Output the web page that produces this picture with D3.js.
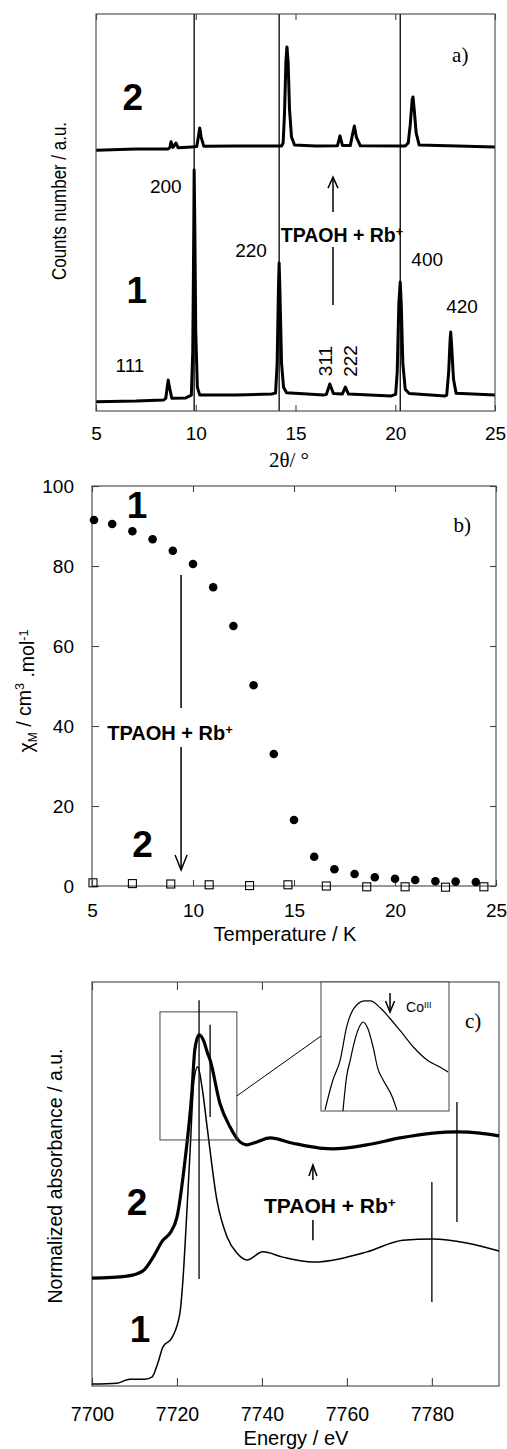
<!DOCTYPE html>
<html>
<head>
<meta charset="utf-8">
<script src="https://cdn.jsdelivr.net/npm/d3@7"></script>
<style>
  body { margin: 0; background: #fff; }
</style>
</head>
<body>
<svg width="507" height="1449"></svg>
<script>
// ---------- data ----------
// a) powder XRD, 2theta (deg) vs counts (a.u.)
let xrdTicks = [5, 10, 15, 20, 25];
let xrdLines = [9.92, 14.18, 20.25];
let xrd1 = [[5,2.3],[7,2.5],[8.4,2.8],[8.5,3.2],[8.57,6],[8.62,7.8],[8.68,6],[8.8,3.2],[9.5,3.3],
  [9.78,4],[9.85,15],[9.9,45],[9.92,60.7],[9.95,48],[10.0,20],[10.08,6],[10.2,4],
  [12,4],[13.8,4.3],[14.0,4.5],[14.08,12],[14.15,32],[14.18,37.3],[14.22,30],[14.3,12],[14.4,6],[14.55,4.6],
  [16.4,4],[16.55,4.2],[16.72,6.8],[16.9,4.4],[17.35,4.3],[17.5,6],[17.65,4.3],
  [19.8,3.8],[20.02,4.2],[20.1,10],[20.18,27],[20.25,32.5],[20.3,27],[20.38,12],[20.5,5.5],[20.7,4.4],
  [22.5,3.8],[22.58,4],[22.68,10],[22.75,18],[22.78,19.9],[22.82,17],[22.92,8],[23.05,4.5],[25,4]];
let xrd2 = [[5,65.7],[7,66],[8.6,66],[8.7,66.3],[8.76,67.8],[8.86,66.4],[9.01,67.5],[9.12,66.3],[9.8,66.5],
  [10.05,66.6],[10.13,69],[10.2,71.3],[10.27,69],[10.4,66.7],[12,66.75],[14.3,66.75],
  [14.38,67.5],[14.45,75],[14.52,88],[14.57,91.7],[14.63,88],[14.7,76],[14.8,69],[14.95,67],
  [16,66.75],[17.1,66.8],[17.23,69.3],[17.35,66.9],[17.75,66.9],[17.85,69.5],[17.95,71.8],[18.05,69],[18.25,66.8],
  [20.5,66.75],[20.65,67.5],[20.75,72],[20.85,78.5],[20.89,79.1],[20.95,76],[21.05,70],[21.2,67],[25,66.5]];

// b) chi_M (cm3/mol) vs temperature (K)
let chiTicksX = [5, 10, 15, 20, 25];
let chiTicksY = [0, 20, 40, 60, 80, 100];
let chiT1 = [5.1, 6, 7, 8, 9, 10, 11, 12, 13, 14, 15, 16, 17, 18, 19, 20, 21, 22, 23, 24];
let chi1  = [91.5, 90.5, 88.7, 86.7, 83.8, 80.5, 74.7, 65, 50.2, 33, 16.5, 7.3, 4.2, 3, 2.2, 1.8, 1.5, 1.2, 1.1, 1.0];
let chiT2 = [5.05, 7, 8.9, 10.8, 12.8, 14.7, 16.6, 18.6, 20.5, 22.5, 24.4];
let chi2  = [0.8, 0.6, 0.5, 0.3, 0.1, 0.3, 0, -0.2, -0.2, -0.3, -0.2];

// c) Co K-edge XANES, energy (eV) vs normalized absorbance (a.u., offset)
let xasTicks = [7700, 7720, 7740, 7760, 7780];
let xas1 = [[7700,0.5],[7705.9,0.7],[7708.9,1.7],[7712.5,1.7],[7714.1,2.2],[7715.5,5.7],[7716.7,9.7],[7718.8,11.9],
  [7720.7,18.1],[7721.4,26.2],[7722.1,38.6],[7723.1,58.4],[7724,75.7],[7724.9,79],[7725.9,74],[7727.1,64.1],
  [7729.4,46],[7731.8,36.9],[7734.1,32.9],[7736.5,31.2],[7740.2,33.2],[7744.9,31.9],[7752,30.7],[7764.7,33.2],
  [7773.2,36.1],[7780.2,36.4],[7788.2,35.4],[7795.8,33.4]];
let xas2 = [[7700,26.7],[7708.2,27.2],[7712,28.5],[7714.4,31.9],[7716.7,36.1],[7718.4,37.9],[7720,41.8],
  [7721.9,55.9],[7723.5,72.5],[7724.2,83.2],[7725.2,86.9],[7726.4,85.1],[7727.1,82.7],[7727.8,80.7],[7730.1,70],
  [7732.5,64.1],[7734.4,60.9],[7736.5,59.7],[7738.8,60.4],[7741.9,61.4],[7747.3,60.1],[7753.6,58.9],[7756.7,58.7],
  [7764.7,59.7],[7772.5,61.4],[7780.2,62.6],[7785.9,62.9],[7791.3,62.6],[7795.8,61.9]];
// inset, edge region enlarged
let inset2 = [[7720.44,0.8],[7721.3,24],[7722.1,39.5],[7722.8,65.1],[7723.9,82.2],[7724.8,85.3],[7725.4,85.3],
  [7726.5,79.8],[7727.5,72.1],[7728.6,62.8],[7730.1,49.6],[7731.6,39.5],[7733,34.1],[7733.9,30.2]];
let inset1 = [[7722.4,0],[7722.8,26.4],[7723.2,39.5],[7723.7,55],[7724.3,66.7],[7724.6,69],[7725.1,64.3],
  [7725.7,49.6],[7726.2,33.3],[7726.8,24],[7727.8,10.9],[7728.3,0.8]];

// ---------- helpers ----------
const SANS = '"Liberation Sans", Arial, Helvetica, sans-serif';
const SERIF = '"Liberation Serif", "Times New Roman", serif';
const svg = d3.select("svg");

function frame(g, x, y) {
  g.append("rect")
    .attr("x", x.range()[0]).attr("y", y.range()[1])
    .attr("width", x.range()[1] - x.range()[0])
    .attr("height", y.range()[0] - y.range()[1])
    .attr("fill", "none").attr("stroke", "#444").attr("stroke-width", 1.1);
}

function txt(g, x, y, s, o = {}) {
  let t = g.append("text").attr("x", x).attr("y", y)
    .attr("font-family", o.serif ? SERIF : SANS)
    .attr("font-size", o.size || 18)
    .attr("font-weight", o.bold ? "bold" : null)
    .attr("text-anchor", o.anchor || "middle")
    .attr("fill", "#000");
  if (o.rotate) t.attr("transform", `rotate(${o.rotate},${x},${y})`);
  if (o.len) t.attr("textLength", o.len).attr("lengthAdjust", "spacingAndGlyphs");
  t.text(s);
  return t;
}
function sup(t, s, dy) {
  return t.append("tspan").attr("dy", dy || "-0.45em").attr("font-size", "0.65em").text(s);
}

function styleAxis(a, size) {
  a.select(".domain").remove();
  a.selectAll("line").attr("stroke", "#444").attr("stroke-width", 1.1);
  a.selectAll("text").attr("font-family", SANS).attr("font-size", size).attr("fill", "#000");
}

function vline(g, x, y0, y1, w) {
  g.append("line").attr("x1", x).attr("x2", x).attr("y1", y0).attr("y2", y1)
    .attr("stroke", "#000").attr("stroke-width", w || 1.3);
}

function arrow(g, x, yTail, yTip, hw, hl) {
  let dir = yTip < yTail ? 1 : -1;
  vline(g, x, yTail, yTip, 1.5);
  g.append("path")
    .attr("d", `M${x - hw},${yTip + dir * hl}L${x},${yTip}L${x + hw},${yTip + dir * hl}`)
    .attr("fill", "none").attr("stroke", "#000").attr("stroke-width", 1.5);
}

let fmt = d3.format("d");

// ---------- a) XRD ----------
let xA = d3.scaleLinear().domain([5, 25]).range([96, 495]);
let yA = d3.scaleLinear().domain([0, 100]).range([411, 14]);
let gA = svg.append("g");

gA.append("g").attr("transform", `translate(0,${yA.range()[0]})`)
  .call(d3.axisBottom(xA).tickValues(xrdTicks).tickFormat(fmt).tickSizeInner(-6).tickSizeOuter(0).tickPadding(16))
  .call(a => styleAxis(a, 19));
gA.append("g").attr("transform", `translate(0,${yA.range()[1]})`)
  .call(d3.axisTop(xA).tickValues(xrdTicks).tickSizeInner(-6).tickSizeOuter(0).tickFormat(""))
  .call(a => styleAxis(a, 19));

xrdLines.forEach(v => vline(gA, xA(v), yA.range()[1], yA.range()[0], 1.3));

let lineA = d3.line().x(d => xA(d[0])).y(d => yA(d[1]));
[xrd1, xrd2].forEach(s => gA.append("path").attr("d", lineA(s))
  .attr("fill", "none").attr("stroke", "#000").attr("stroke-width", 3).attr("stroke-linejoin", "round"));
frame(gA, xA, yA);

// peak indices
txt(gA, xA(6.7), yA(9.8), "111", {size: 19});
txt(gA, xA(8.5), yA(54.9), "200", {size: 19});
txt(gA, xA(12.77), yA(38.8), "220", {size: 19});
txt(gA, xA(21.6), yA(36.5), "400", {size: 19});
txt(gA, xA(23.35), yA(24.7), "420", {size: 19});
txt(gA, xA(16.83), yA(12.6), "311", {size: 19, rotate: -90});
txt(gA, xA(18.08), yA(12.6), "222", {size: 19, rotate: -90});

txt(gA, xA(6.85), yA(75.8), "2", {size: 37, bold: true});
txt(gA, xA(7.05), yA(27.2), "1", {size: 37, bold: true});
txt(gA, xA(22.85), yA(87.9), "a)", {size: 21, serif: true, anchor: "start"});

arrow(gA, xA(16.88), yA(50.1), yA(58.9), 5, 11);
vline(gA, xA(16.88), yA(41.3), yA(26.7), 1.5);
sup(txt(gA, xA(17.33), yA(42.6), "TPAOH + Rb", {size: 19.5, bold: true}), "+");

txt(gA, 66, 201, "Counts number / a.u.", {size: 20, rotate: -90, len: 158});
txt(gA, 289, 467, "2θ/ °", {size: 21, serif: true});

// ---------- b) chi_M(T) ----------
let xB = d3.scaleLinear().domain([5, 25]).range([92, 496]);
let yB = d3.scaleLinear().domain([0, 100]).range([886, 486]);
let gB = svg.append("g");

gB.append("g").attr("transform", `translate(0,${yB.range()[0]})`)
  .call(d3.axisBottom(xB).tickValues(chiTicksX).tickFormat(fmt).tickSizeInner(-6).tickSizeOuter(0).tickPadding(18))
  .call(a => styleAxis(a, 19));
gB.append("g").attr("transform", `translate(0,${yB.range()[1]})`)
  .call(d3.axisTop(xB).tickValues(chiTicksX).tickSizeInner(-6).tickSizeOuter(0).tickFormat(""))
  .call(a => styleAxis(a, 19));
gB.append("g").attr("transform", `translate(${xB.range()[0]},0)`)
  .call(d3.axisLeft(yB).tickValues(chiTicksY).tickFormat(fmt).tickSizeInner(-7).tickSizeOuter(0).tickPadding(18))
  .call(a => styleAxis(a, 19));
gB.append("g").attr("transform", `translate(${xB.range()[1]},0)`)
  .call(d3.axisRight(yB).tickValues(chiTicksY).tickSizeInner(-6).tickSizeOuter(0).tickFormat(""))
  .call(a => styleAxis(a, 19));
frame(gB, xB, yB);

gB.selectAll(".dot").data(chiT1).enter().append("circle")
  .attr("cx", d => xB(d)).attr("cy", (d, i) => yB(chi1[i])).attr("r", 4.3).attr("fill", "#000");
gB.selectAll(".sq").data(chiT2).enter().append("rect")
  .attr("x", d => xB(d) - 4).attr("y", (d, i) => yB(chi2[i]) - 4)
  .attr("width", 8).attr("height", 8)
  .attr("fill", "none").attr("stroke", "#000").attr("stroke-width", 1.1);

txt(gB, xB(7.23), yB(92), "1", {size: 37, bold: true});
txt(gB, xB(7.5), yB(7.25), "2", {size: 37, bold: true});
txt(gB, xB(22.9), yB(88.5), "b)", {size: 21, serif: true, anchor: "start"});

vline(gB, xB(9.41), yB(77.75), yB(44.5), 1.5);
arrow(gB, xB(9.41), yB(34.75), yB(4), 6, 15);
sup(txt(gB, xB(8.86), yB(36.5), "TPAOH + Rb", {size: 20, bold: true}), "+");

let yt = txt(gB, 33, 691, "χ", {size: 19.5, rotate: -90});
yt.append("tspan").attr("dy", "0.3em").attr("font-size", "0.62em").text("M");
yt.append("tspan").attr("dy", "-0.3em").text(" / cm");
sup(yt, "3", "-0.5em");
yt.append("tspan").attr("dy", "0.5em").text(" .mol");
sup(yt, "-1", "-0.5em");

txt(gB, 285, 941, "Temperature / K", {size: 20.5, len: 143});

// ---------- c) XANES ----------
let xC = d3.scaleLinear().domain([7700, 7795.8]).range([92, 499]);
let yC = d3.scaleLinear().domain([0, 100]).range([1386, 982]);
let gC = svg.append("g");

gC.append("g").attr("transform", `translate(0,${yC.range()[0]})`)
  .call(d3.axisBottom(xC).tickValues(xasTicks).tickFormat(fmt).tickSizeInner(-8).tickSizeOuter(0).tickPadding(21))
  .call(a => styleAxis(a, 19.5));
gC.append("g").attr("transform", `translate(0,${yC.range()[1]})`)
  .call(d3.axisTop(xC).tickValues(xasTicks).tickSizeInner(-8).tickSizeOuter(0).tickFormat(""))
  .call(a => styleAxis(a, 19.5));
frame(gC, xC, yC);

let lineC = d3.line().x(d => xC(d[0])).y(d => yC(d[1])).curve(d3.curveMonotoneX);
gC.append("path").attr("d", lineC(xas1)).attr("fill", "none").attr("stroke", "#000").attr("stroke-width", 1.5);
gC.append("path").attr("d", lineC(xas2)).attr("fill", "none").attr("stroke", "#000").attr("stroke-width", 3.2);

// zoom box, connector, inset
gC.append("rect").attr("x", xC(7716)).attr("y", yC(92.6))
  .attr("width", xC(7734.1) - xC(7716)).attr("height", yC(60.9) - yC(92.6))
  .attr("fill", "none").attr("stroke", "#444").attr("stroke-width", 1);

let xI = d3.scaleLinear().domain([7720, 7734]).range([321, 449]);
let yI = d3.scaleLinear().domain([0, 100]).range([1111, 982]);
gC.append("line").attr("x1", xC(7734.1)).attr("y1", yC(71.8)).attr("x2", xI(7720)).attr("y2", yI(58.1))
  .attr("stroke", "#000").attr("stroke-width", 1);
gC.append("rect").attr("x", xI.range()[0]).attr("y", yI.range()[1])
  .attr("width", xI.range()[1] - xI.range()[0]).attr("height", yI.range()[0] - yI.range()[1])
  .attr("fill", "#fff").attr("stroke", "#444").attr("stroke-width", 1);
let lineI = d3.line().x(d => xI(d[0])).y(d => yI(d[1])).curve(d3.curveMonotoneX);
[inset1, inset2].forEach(s => gC.append("path").attr("d", lineI(s))
  .attr("fill", "none").attr("stroke", "#000").attr("stroke-width", 1.2));
arrow(gC, xI(7727.55), yI(91.5), yI(76.7), 4.5, 11);
sup(txt(gC, xI(7729.3), yI(76.7), "Co", {size: 14, anchor: "start"}), "III");

// markers
vline(gC, xC(7725.2), yC(95.5), yC(26.5), 1.3);
vline(gC, xC(7727.8), yC(89.4), yC(66.6), 1.3);
vline(gC, xC(7785.9), yC(70.3), yC(40.6), 1.3);
vline(gC, xC(7780), yC(50.5), yC(20.8), 1.3);
arrow(gC, xC(7752), yC(51), yC(54.7), 4, 11);
vline(gC, xC(7752), yC(41.1), yC(36.1), 1.5);
sup(txt(gC, xC(7756), yC(42.8), "TPAOH + Rb", {size: 21, bold: true}), "+");

txt(gC, xC(7710.6), yC(42.3), "2", {size: 37, bold: true});
txt(gC, xC(7711.3), yC(10.9), "1", {size: 37, bold: true});
txt(gC, xC(7787.8), yC(88.6), "c)", {size: 21, serif: true, anchor: "start"});

txt(gC, 62, 1176, "Normalized absorbance / a.u.", {size: 20, rotate: -90, len: 255});
txt(gC, 296, 1445, "Energy / eV", {size: 20.5, len: 105});
</script>
</body>
</html>
